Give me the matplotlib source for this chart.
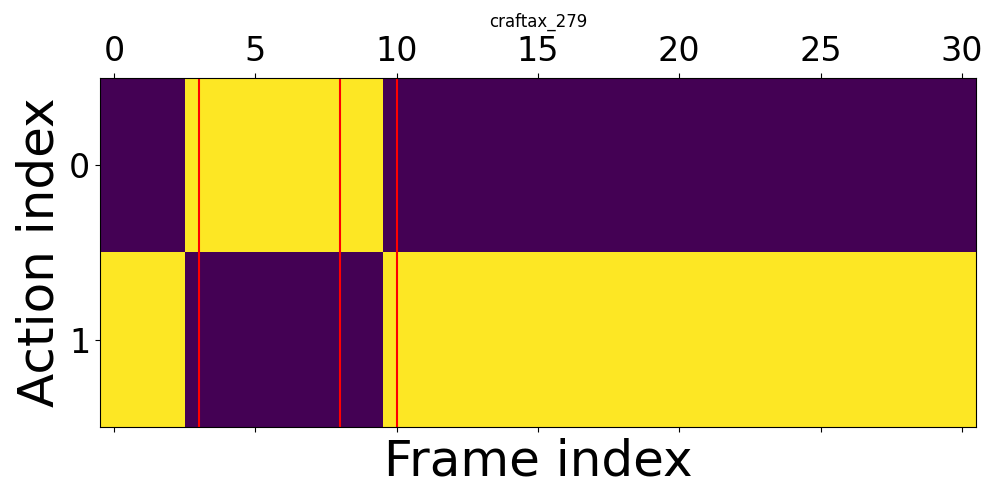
import numpy as np
import matplotlib
matplotlib.use("Agg")
import matplotlib.pyplot as plt

title = "craftax_279"
n_actions = 2
# chosen action per frame (0..30)
actions = [1, 1, 1, 0, 0, 0, 0, 0, 0, 0] + [1] * 21
marked_frames = [3, 8, 10]

# one-hot matrix: rows = actions, cols = frames
mat = np.zeros((n_actions, len(actions)))
for t, a in enumerate(actions):
    mat[a, t] = 1

fig, ax = plt.subplots(figsize=(10, 5), dpi=100)
ax.matshow(mat, aspect="auto", cmap="viridis")
for f in marked_frames:
    ax.axvline(f, color="red")

ax.set_title(title, fontsize=12)
ax.set_xlabel("Frame index", fontsize=36)
ax.set_ylabel("Action index", fontsize=36)
ax.set_xticks(range(0, len(actions), 5))
ax.set_yticks(range(n_actions))
ax.tick_params(labelsize=24)

fig.subplots_adjust(left=0.1, right=0.976, top=0.844, bottom=0.146)
plt.savefig("out.png")
plt.close()
